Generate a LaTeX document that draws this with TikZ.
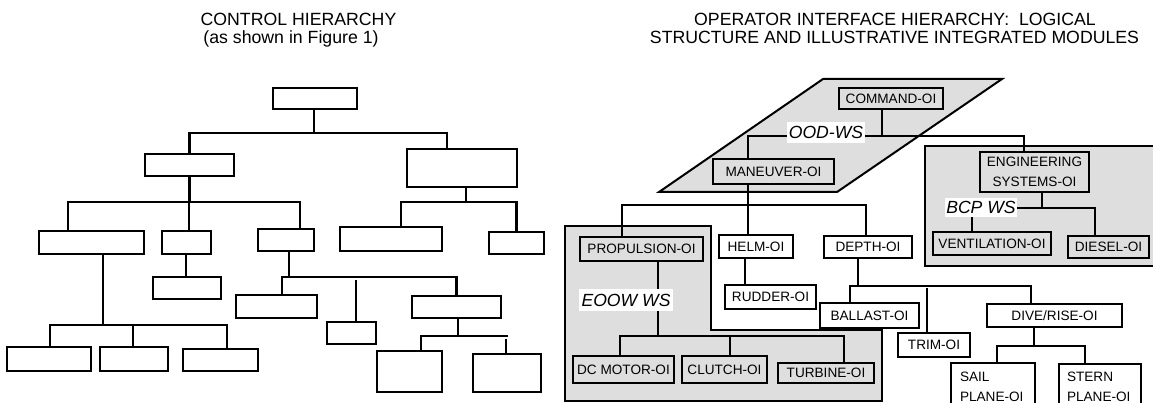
\documentclass[tikz,border=0pt]{standalone}
\usepackage{fontspec}
\setmainfont{Liberation Sans}
\definecolor{gry}{RGB}{222,222,222}
\newcommand\lab{\fontsize{13.6}{16}\selectfont}
\newcommand\labtwo{\fontsize{13.6}{20}\selectfont}
\newcommand\ttl{\fontsize{17.7}{18}\selectfont}
\newcommand\wsf{\fontsize{17.6}{18}\selectfont\itshape}
\newcommand\bx[7]{\node[#1,minimum width={(#5-#3)*1pt},minimum height={(#6-#4)*1pt}] (#2) at ({(#3+#5)/2},{(#4+#6)/2}) {#7};}
\tikzset{
  ebox/.style={draw,line width=2.6pt,inner sep=0pt,fill=white},
  obox/.style={draw,line width=2.6pt,inner sep=0pt,font=\lab,fill=white},
  gobox/.style={obox,fill=gry},
  wire/.style={line width=2.2pt},
  panel/.style={draw,line width=2.4pt,fill=gry},
  wslab/.style={fill=white,inner sep=0pt,font=\wsf},
  ttlnode/.style={font=\ttl,anchor=base,inner sep=0pt}
}
\begin{document}
\begin{tikzpicture}[x=1pt,y=-1pt]
\useasboundingbox (0,0) rectangle (1153,403);
\clip (0,0) rectangle (1153,403);

% titles
\node[ttlnode] (t1) at (298.5,26) {CONTROL HIERARCHY};
\node[ttlnode] (t2) at (291,44) {(as shown in Figure 1)};
\node[ttlnode] (t3) at (895,26) {OPERATOR INTERFACE HIERARCHY:\ \ LOGICAL};
\node[ttlnode] (t4) at (894.5,44) {STRUCTURE AND ILLUSTRATIVE INTEGRATED MODULES};

% ---------- left: control hierarchy ----------
\bx{ebox}{T}{273}{88}{357}{109}{}
\bx{ebox}{L}{145}{154}{234}{176}{}
\bx{ebox}{R}{407}{149}{517}{187}{}
\bx{ebox}{A}{39}{231}{144}{254}{}
\bx{ebox}{B}{162}{231}{211}{254}{}
\bx{ebox}{C}{258}{229}{314}{251}{}
\bx{ebox}{D}{340}{227}{442}{251}{}
\bx{ebox}{E}{489}{232}{544}{254}{}
\bx{ebox}{Aa}{7}{347}{91}{371}{}
\bx{ebox}{Ab}{100}{347}{168}{371}{}
\bx{ebox}{Ac}{183}{349}{258}{371}{}
\bx{ebox}{Ba}{153}{277}{221}{299}{}
\bx{ebox}{Ca}{236}{295}{317}{318}{}
\bx{ebox}{Cb}{327}{322}{376}{344}{}
\bx{ebox}{Cc}{412}{296}{501}{318}{}
\bx{ebox}{Cca}{377}{351}{442}{392}{}
\bx{ebox}{Ccb}{473}{354}{541}{392}{}

\coordinate (b1) at (314,133);
\draw[wire] ([xshift=-1pt]T.south) -- (b1);
\draw[wire] (L.north) |- (b1) -| ([xshift=-15pt]R.north);
\coordinate (b2) at (189,202);
\draw[wire] (L.south) -- (L.south |- b2);
\draw[wire] ([xshift=-23.5pt]A.north) |- (b2) -| ([xshift=14pt]C.north);
\draw[wire] ([xshift=2.5pt]B.north) -- ([xshift=2.5pt]B.north |- b2);
\coordinate (b3) at (466,202);
\draw[wire] ([xshift=4pt]R.south) -- (b3);
\draw[wire] ([xshift=10pt]D.north) |- (b3) -| (E.north);
\coordinate (b4) at (103,325);
\draw[wire] ([xshift=11.5pt]A.south) -- (b4);
\draw[wire] ([xshift=1pt]Aa.north) |- (b4) -| ([xshift=6.5pt]Ac.north);
\draw[wire] ([xshift=-1pt]Ab.north) -- ([xshift=-1pt]Ab.north |- b4);
\draw[wire] ([xshift=-0.5pt]B.south) -- ([xshift=-0.5pt]B.south |- Ba.north);
\coordinate (b5) at (289,277);
\draw[wire] ([xshift=3pt]C.south) -- (b5);
\draw[wire] ([xshift=5.5pt]Ca.north) |- (b5) -| (Cc.north);
\coordinate (c2t) at (356,280);
\draw[wire] ([xshift=4.5pt]Cb.north) -- (c2t);
\coordinate (b6) at (458,336);
\draw[wire] ([xshift=1.5pt]Cc.south) -- (b6);
\coordinate (b6r) at (508,336);
\draw[wire] ([xshift=11.5pt]Cca.north) |- (b6r);
\coordinate (c32t) at (506,339);
\draw[wire] ([xshift=-1pt]Ccb.north) -- (c32t);

% ---------- right: operator interface hierarchy ----------
\draw[panel,line width=2pt] (659,192) -- (837,192) -- (1002,79) -- (823,79) -- cycle;
\draw[panel] (565,226) -- (711,226) -- (711,330) -- (882,330) -- (882,401) -- (565,401) -- cycle;
\draw[panel] (925,146) rectangle (1170,266);

\bx{gobox}{cmd}{839}{88}{943}{109}{COMMAND-OI}
\bx{gobox}{man}{713}{159}{834}{184}{MANEUVER-OI}
\bx{gobox,font=\labtwo,align=center}{eng}{980}{152}{1089}{192}{ENGINEERING\\SYSTEMS-OI}
\bx{gobox}{ven}{933}{232}{1051}{255}{VENTILATION-OI}
\bx{gobox}{die}{1068}{236}{1149}{258}{DIESEL-OI}
\bx{gobox}{pro}{580}{237}{703}{261}{PROPULSION-OI}
\bx{gobox}{dcm}{573}{356}{674}{383}{DC MOTOR-OI}
\bx{gobox}{clu}{682}{356}{767}{383}{CLUTCH-OI}
\bx{gobox}{tur}{778}{363}{874}{383}{TURBINE-OI}
\bx{obox}{hel}{719}{235}{793}{258}{HELM-OI}
\bx{obox}{dep}{824}{236}{912}{258}{DEPTH-OI}
\bx{obox}{rud}{725}{285}{816}{309}{RUDDER-OI}
\bx{obox}{bal}{820}{303}{919}{328}{BALLAST-OI}
\bx{obox}{tri}{898}{333}{970}{357}{TRIM-OI}
\bx{obox}{div}{987}{304}{1122}{327}{DIVE/RISE-OI}
\bx{obox,font=\labtwo,align=left,text width=66pt}{sai}{951}{363}{1035}{410}{SAIL\\PLANE-OI}
\bx{obox,font=\labtwo,align=left,text width=66pt}{ste}{1059}{364}{1141}{410}{STERN\\PLANE-OI}

\coordinate (bR1) at (882,136);
\draw[wire] ([xshift=-9pt]cmd.south) -- (bR1);
\draw[wire] ([xshift=-25.5pt]man.north) |- (bR1) -| ([xshift=-10.5pt]eng.north);
\coordinate (bR2) at (748,205);
\draw[wire] ([xshift=-25.5pt]man.south) -- (bR2);
\draw[wire] ([xshift=-19.5pt]pro.north) |- (bR2) -| ([xshift=-2pt]dep.north);
\draw[wire] ([xshift=-8pt]hel.north) -- ([xshift=-8pt]hel.north |- bR2);
\draw[wire] ([xshift=-11pt]hel.south) -- ([xshift=-11pt]hel.south |- rud.north);
\coordinate (bR3) at (858,286);
\draw[wire] ([xshift=-10pt]dep.south) -- (bR3);
\draw[wire] ([xshift=-19.5pt]bal.north) |- (bR3) -| ([xshift=-23.5pt]div.north);
\coordinate (trt) at (927,288);
\draw[wire] ([xshift=-7pt]tri.north) -- (trt);
\coordinate (bR4) at (1034,346);
\draw[wire] ([xshift=-20.5pt]div.south) -- (bR4);
\draw[wire] ([xshift=4pt]sai.north) |- (bR4) -| ([xshift=-15pt]ste.north);
\coordinate (bR5) at (658,336);
\draw[wire] ([xshift=16.5pt]pro.south) -- (bR5);
\draw[wire] ([xshift=-3.5pt]dcm.north) |- (bR5) -| ([xshift=18pt]tur.north);
\draw[wire] ([xshift=5.5pt]clu.north) -- ([xshift=5.5pt]clu.north |- bR5);
\coordinate (bR6) at (1042,208);
\draw[wire] ([xshift=7.5pt]eng.south) -- (bR6);
\draw[wire] ([xshift=-20pt]ven.north) |- (bR6) -| ([xshift=-13.5pt]die.north);

\bx{wslab}{ood}{787}{122}{865}{143}{OOD-WS}
\bx{wslab}{eoow}{579}{289}{673}{311}{EOOW WS}
\bx{wslab}{bcp}{945}{198}{1017}{217}{BCP WS}
\end{tikzpicture}
\end{document}
